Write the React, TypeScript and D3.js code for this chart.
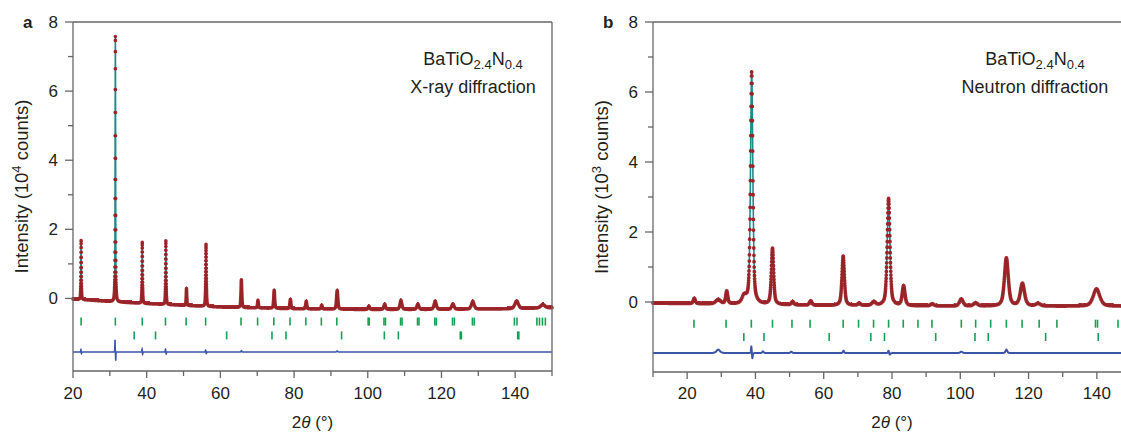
import { useEffect, useRef } from 'react'
import * as d3 from 'd3'

const COLORS = {
  obs: '#9c1c22', // red dots
  calc: '#1f8a8c', // teal fit
  tick: '#16a155', // green reflection marks
  diff: '#3a55a8', // blue difference
  axis: '#666666',
  text: '#231f20',
}

// X-ray: [2θ, height above background, FWHM]
const xrdPeaks = [
  [22.2, 1.71, 0.15], [31.5, 7.68, 0.15], [38.8, 1.77, 0.17], [45.2, 1.84, 0.18],
  [50.8, 0.49, 0.2], [56.1, 1.8, 0.22], [65.7, 0.8, 0.28], [70.2, 0.22, 0.3],
  [74.6, 0.52, 0.32], [79.0, 0.27, 0.34], [83.3, 0.22, 0.36], [87.5, 0.11, 0.38],
  [91.7, 0.54, 0.42], [100.3, 0.09, 0.5], [104.6, 0.15, 0.55], [109.0, 0.26, 0.6],
  [113.6, 0.15, 0.65], [118.3, 0.24, 0.7], [123.1, 0.15, 0.75], [128.5, 0.22, 0.85],
  [140.4, 0.22, 1.1], [147.5, 0.1, 1.3],
]
const xrdBackground = [
  [20, -0.02], [25, -0.05], [30, -0.09], [40, -0.15], [50, -0.2], [60, -0.25],
  [80, -0.3], [100, -0.32], [120, -0.32], [140, -0.3], [150, -0.27],
]
const xrdMainTicks = [
  22.2, 31.5, 38.8, 45.1, 50.7, 56.0, 65.6, 70.1, 74.5, 78.9, 83.2, 87.4, 91.6,
  100.1, 100.4, 104.4, 104.8, 108.9, 109.3, 113.5, 113.9, 118.2, 118.6, 123.0, 123.5,
  128.4, 128.9, 139.8, 140.5, 145.9, 146.6, 147.4, 148.2,
]
const xrdSecondTicks = [36.6, 42.4, 61.7, 74.0, 77.8, 92.9, 104.5, 108.3, 125.1, 125.4, 140.7, 141.0]
// difference features: [2θ, amplitude, width]
const xrdDiff = [
  [22.15, 0.07, 0.1], [22.3, -0.05, 0.1], [31.4, 0.36, 0.08], [31.6, -0.26, 0.08],
  [38.75, 0.09, 0.1], [38.9, -0.07, 0.1], [45.1, 0.08, 0.12], [45.3, -0.06, 0.12],
  [56.0, 0.06, 0.15], [56.2, -0.05, 0.15], [65.7, 0.04, 0.2], [91.7, 0.03, 0.3],
]

// Neutron: [2θ, height above background, FWHM]
const ndPeaks = [
  [22.1, 0.15, 0.7], [29.1, 0.12, 1.6], [31.6, 0.36, 0.7], [36.7, 0.2, 1.4],
  [38.9, 6.64, 0.8], [45.0, 1.6, 0.8], [50.9, 0.09, 0.8], [56.2, 0.12, 0.8],
  [65.7, 1.41, 0.85], [70.4, 0.06, 0.9], [74.7, 0.1, 1.2], [79.0, 3.06, 0.95],
  [83.4, 0.56, 0.95], [91.8, 0.06, 1.1], [100.3, 0.2, 1.2], [104.5, 0.09, 1.3],
  [113.5, 1.37, 1.35], [118.2, 0.64, 1.45], [122.8, 0.07, 1.5], [139.9, 0.49, 2.2],
]
const ndBackground = [
  [10, -0.03], [30, -0.06], [60, -0.1], [100, -0.12], [150, -0.12],
]
const ndMainTicks = [
  22.0, 31.4, 38.8, 45.0, 50.7, 56.0, 65.7, 70.2, 74.6, 79.0, 83.3, 87.6, 91.7,
  100.3, 104.5, 108.9, 113.5, 118.1, 123.1, 128.3, 139.6, 140.2, 146.2,
]
const ndSecondTicks = [36.6, 42.5, 61.6, 73.8, 77.8, 92.8, 104.3, 108.2, 125.0, 140.4]
const ndDiff = [
  [29.1, 0.1, 1.2], [38.8, 0.2, 0.25], [39.1, -0.16, 0.25], [42.2, 0.05, 0.5],
  [50.5, 0.04, 0.6], [65.8, 0.07, 0.4], [79.0, 0.08, 0.4], [79.3, -0.06, 0.4],
  [100.3, 0.04, 0.8], [113.5, 0.1, 0.6],
]

const xMajor = [20, 40, 60, 80, 100, 120, 140]
const yMajor = [0, 2, 4, 6, 8]
const yMinor = [1, 3, 5, 7]

const PANELS = [
  {
    letter: 'a', left: 73, right: 552, top: 22, bottom: 371,
    xDomain: [20, 150], yDomain: [-2.1, 8], step: 0.01, dot: 3.6,
    xMinor: [30, 50, 70, 90, 110, 130, 150],
    peaks: xrdPeaks, bg: xrdBackground, main: xrdMainTicks, second: xrdSecondTicks,
    diff: xrdDiff, rowMain: -0.67, rowSecond: -1.07, diffBase: -1.55,
    exp: '4', method: 'X-ray diffraction', legendX: 473,
  },
  {
    letter: 'b', left: 653, right: 1131, top: 22, bottom: 372,
    xDomain: [10, 150], yDomain: [-2, 8], step: 0.04, dot: 3.8,
    xMinor: [10, 30, 50, 70, 90, 110, 130, 150],
    peaks: ndPeaks, bg: ndBackground, main: ndMainTicks, second: ndSecondTicks,
    diff: ndDiff, rowMain: -0.62, rowSecond: -1.0, diffBase: -1.46,
    exp: '3', method: 'Neutron diffraction', legendX: 1035,
  },
]

function pv(x, pos, h, w) {
  const d = (x - pos) / (w / 2)
  return h * (0.5 / (1 + d * d) + 0.5 * Math.exp(-Math.LN2 * d * d))
}

function drawPanel(svg, p) {
  const font = '"Liberation Sans", Arial, sans-serif'
  const x = d3.scaleLinear().domain(p.xDomain).range([p.left, p.right])
  const y = d3.scaleLinear().domain(p.yDomain).range([p.bottom, p.top])
  const bg = d3.scaleLinear().domain(p.bg.map(d => d[0])).range(p.bg.map(d => d[1]))
  const profile = t => bg(t) + d3.sum(p.peaks, k => pv(t, k[0], k[1], k[2]))
  const diff = t => p.diffBase + d3.sum(p.diff, k => pv(t, k[0], k[1], k[2]))

  const g = svg.append('g')

  // difference curve
  const fine = d3.range(p.xDomain[0], p.xDomain[1] + 1e-9, 0.01)
  g.append('path')
    .attr('d', d3.line().x(t => x(t)).y(t => y(diff(t)))(fine))
    .attr('fill', 'none')
    .attr('stroke', COLORS.diff)
    .attr('stroke-width', p.letter === 'a' ? 1.6 : 2)

  // reflection markers
  const rows = [[p.main, p.rowMain], [p.second, p.rowSecond]]
  rows.forEach(([list, level]) => {
    g.selectAll(null)
      .data(list)
      .enter()
      .append('line')
      .attr('x1', d => x(d))
      .attr('x2', d => x(d))
      .attr('y1', y(level) - 4)
      .attr('y2', y(level) + 4)
      .attr('stroke', COLORS.tick)
      .attr('stroke-width', 1.6)
  })

  // calculated line
  const calcPts = d3.range(p.xDomain[0], p.xDomain[1] + 1e-9, 0.005)
  g.append('path')
    .attr('d', d3.line().x(t => x(t)).y(t => y(profile(t)))(calcPts))
    .attr('fill', 'none')
    .attr('stroke', COLORS.calc)
    .attr('stroke-width', 1.6)

  // observed points as round dots
  const obs = d3.range(p.xDomain[0], p.xDomain[1] + 1e-9, p.step)
  const dots = obs.map(t => `M${x(t).toFixed(2)},${y(profile(t)).toFixed(2)}h0`).join('')
  g.append('path')
    .attr('d', dots)
    .attr('fill', 'none')
    .attr('stroke', COLORS.obs)
    .attr('stroke-width', p.dot)
    .attr('stroke-linecap', 'round')
    .attr('opacity', 0.95)

  // frame
  const ax = svg.append('g').attr('stroke', COLORS.axis).attr('stroke-width', 1.3)
  ax.append('line').attr('x1', p.left).attr('x2', p.left).attr('y1', p.top).attr('y2', p.bottom)
  ax.append('line').attr('x1', p.left).attr('x2', p.right).attr('y1', p.bottom).attr('y2', p.bottom)
  ax.append('line').attr('x1', p.left).attr('x2', p.right).attr('y1', p.top).attr('y2', p.top)
  ax.append('line').attr('x1', p.right).attr('x2', p.right).attr('y1', p.top).attr('y2', p.bottom)
  yMajor.forEach(v => {
    ax.append('line').attr('x1', p.left - 8).attr('x2', p.left).attr('y1', y(v)).attr('y2', y(v))
  })
  yMinor.forEach(v => {
    ax.append('line').attr('x1', p.left - 5).attr('x2', p.left).attr('y1', y(v)).attr('y2', y(v))
  })
  xMajor.forEach(v => {
    ax.append('line').attr('x1', x(v)).attr('x2', x(v)).attr('y1', p.bottom).attr('y2', p.bottom + 7)
  })
  p.xMinor.forEach(v => {
    ax.append('line').attr('x1', x(v)).attr('x2', x(v)).attr('y1', p.bottom).attr('y2', p.bottom + 5)
  })

  const txt = svg.append('g').attr('font-family', font).attr('fill', COLORS.text)
  yMajor.forEach(v => {
    txt.append('text')
      .attr('x', p.left - 15)
      .attr('y', y(v))
      .attr('dy', '0.35em')
      .attr('text-anchor', 'end')
      .attr('font-size', 17)
      .text(v)
  })
  xMajor.forEach(v => {
    txt.append('text')
      .attr('x', x(v))
      .attr('y', 399)
      .attr('text-anchor', 'middle')
      .attr('font-size', 17)
      .text(v)
  })

  const xt = txt.append('text')
    .attr('x', (p.left + p.right) / 2)
    .attr('y', 428)
    .attr('text-anchor', 'middle')
    .attr('font-size', 17)
  xt.append('tspan').text('2')
  xt.append('tspan').attr('font-style', 'italic').text('θ')
  xt.append('tspan').text(' (°)')

  const yt = txt.append('text')
    .attr('transform', `translate(${p.left - 45},${(p.top + p.bottom) / 2 - 10}) rotate(-90)`)
    .attr('text-anchor', 'middle')
    .attr('font-size', 18.5)
  yt.append('tspan').text('Intensity (10')
  yt.append('tspan').attr('font-size', 13).attr('dy', -7).text(p.exp)
  yt.append('tspan').attr('dy', 7).text(' counts)')

  txt.append('text')
    .attr('x', p.left - 50)
    .attr('y', 28)
    .attr('font-size', 17)
    .attr('font-weight', 'bold')
    .text(p.letter)

  const l1 = txt.append('text')
    .attr('x', p.legendX)
    .attr('y', 65)
    .attr('text-anchor', 'middle')
    .attr('font-size', 18)
  l1.append('tspan').text('BaTiO')
  l1.append('tspan').attr('font-size', 13).attr('dy', 4).text('2.4')
  l1.append('tspan').attr('dy', -4).text('N')
  l1.append('tspan').attr('font-size', 13).attr('dy', 4).text('0.4')

  txt.append('text')
    .attr('x', p.legendX)
    .attr('y', 93)
    .attr('text-anchor', 'middle')
    .attr('font-size', 18)
    .text(p.method)
}

export default function App() {
  const svgRef = useRef(null)

  useEffect(() => {
    document.body.style.margin = '0'
    const svg = d3.select(svgRef.current)
    svg.selectAll('*').remove()
    PANELS.forEach(p => drawPanel(svg, p))
  }, [])

  return (
    <svg
      ref={svgRef}
      width={1121}
      height={432}
      style={{ display: 'block', background: '#fff' }}
    />
  )
}
